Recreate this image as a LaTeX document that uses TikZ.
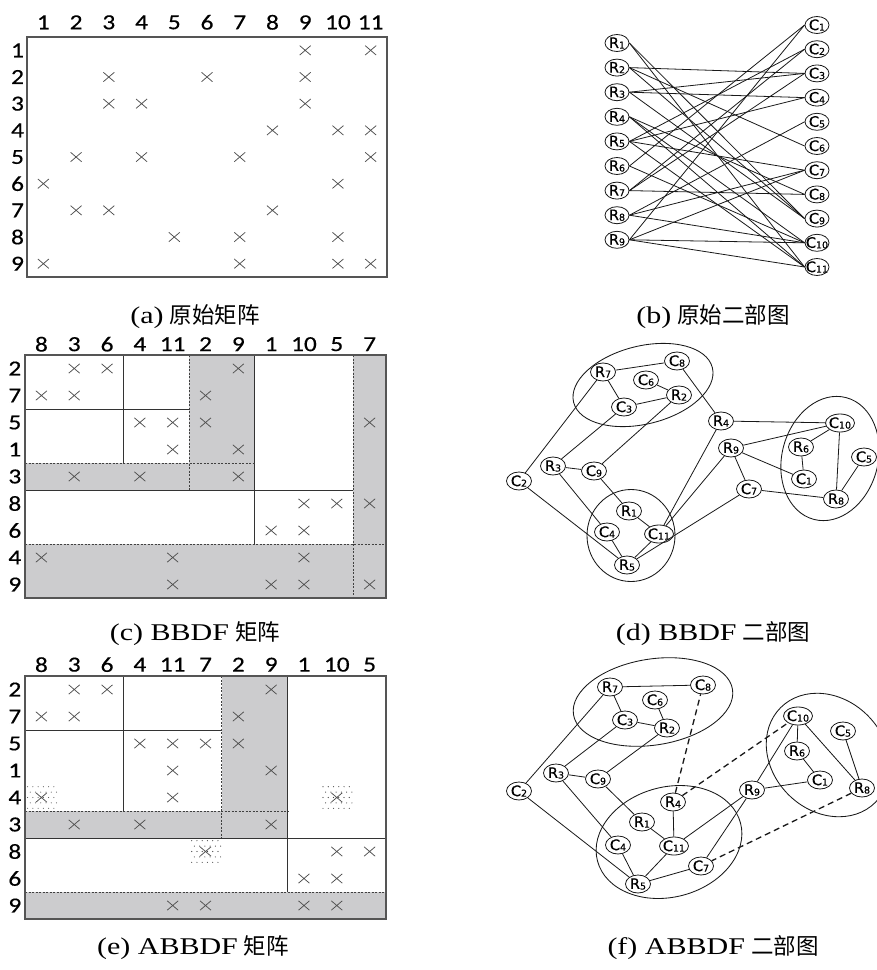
\documentclass[tikz,border=0pt]{standalone}
\usepackage{fontspec}
\usepackage{graphicx}
\setmainfont{Liberation Serif}
\newfontfamily\cjkf{Noto Sans CJK SC}
\newfontfamily\numf[FakeBold=0.4]{Carlito}
\newfontfamily\nodef[FakeBold=0.5]{DejaVu Sans}
\usetikzlibrary{shapes.geometric}

\definecolor{cellgray}{RGB}{204,204,206}
\definecolor{linegray}{RGB}{85,85,85}
\definecolor{xgray}{RGB}{80,80,80}

\newcommand{\mlab}[1]{\scalebox{1.18}[1]{\fontsize{21.5}{22}\numf #1}}
\newcommand{\gsub}[1]{\raisebox{-0.6pt}{\fontsize{9.5}{10}\selectfont #1}}
\newcommand{\glab}[2]{\makebox[0pt]{\fontsize{14.5}{15}\nodef #1\gsub{#2}}}
\newcommand{\capt}[2]{\scalebox{1.25}[1]{\fontsize{24}{25}\selectfont #1}\hspace{6pt}{\fontsize{22.5}{25}\cjkf #2}}

\tikzset{
  xmk/.style={draw=xgray, line width=0.75pt},
  frame/.style={draw=linegray, line width=1.4pt},
  inner/.style={draw=black!80, line width=0.9pt},
  dsh/.style={draw=black!75, line width=0.9pt, dash pattern=on 2pt off 1.5pt},
  numlab/.style={inner sep=0pt, anchor=center},
  gnode/.style={ellipse, draw=black!90, fill=white, line width=0.8pt, inner sep=0pt, minimum width=25pt, minimum height=18pt},
  gwide/.style={gnode, minimum width=29pt},
  edge/.style={draw=black!90, line width=0.8pt},
  dedge/.style={draw=black!90, line width=1.3pt, dash pattern=on 6pt off 4pt},
  group/.style={ellipse, draw=black!90, line width=0.85pt, inner sep=0pt},
  capnode/.style={inner sep=0pt}
}

\begin{document}
\begin{tikzpicture}[x=1pt, y=-1pt]
\useasboundingbox (0,0) rectangle (877,970);
\fill[white] (0,0) rectangle (877,970);

% ---------------- (a) original matrix ----------------
\begin{scope}[shift={(27,37)}, x=32.73pt, y=-26.67pt]
  \foreach \i in {1,...,11} \node[numlab] (ac\i) at (\i-0.5,-0.55) {\mlab{\i}};
  \foreach \j in {1,...,9} \node[numlab] (ar\j) at (-0.29,\j-0.5) {\mlab{\j}};
  \foreach \c/\r in {9/1,11/1, 3/2,6/2,9/2, 3/3,4/3,9/3, 8/4,10/4,11/4,
                     2/5,4/5,7/5,11/5, 1/6,10/6, 2/7,3/7,8/7, 5/8,7/8,10/8,
                     1/9,7/9,10/9,11/9}
    \draw[xmk] (\c-0.5,\r-0.5) +(-5.5pt,-4.7pt) -- +(5.5pt,4.7pt) +(-5.5pt,4.7pt) -- +(5.5pt,-4.7pt);
  \draw[frame] (0,0) rectangle (11,9);
\end{scope}

% ---------------- (c) BBDF matrix ----------------
\begin{scope}[shift={(25,355)}, x=32.82pt, y=-27pt]
  \fill[cellgray] (5,0) rectangle (7,5);
  \fill[cellgray] (0,4) rectangle (7,5);
  \fill[cellgray] (10,0) rectangle (11,9);
  \fill[cellgray] (0,7) rectangle (11,9);
  \draw[inner] (3,0) -- (3,4) (0,2) -- (5,2) (0,5) -- (10,5) (7,0) -- (7,7);
  \draw[dsh] (5,0) -- (5,5) (0,4) -- (7,4) (10,0) -- (10,9) (0,7) -- (11,7);
  \foreach \l [count=\i] in {8,3,6,4,11,2,9,1,10,5,7} \node[numlab] (cc\i) at (\i-0.5,-0.4) {\mlab{\l}};
  \foreach \l [count=\j] in {2,7,5,1,3,8,6,4,9} \node[numlab] (cr\j) at (-0.31,\j-0.5) {\mlab{\l}};
  \foreach \c/\r in {2/1,3/1,7/1, 1/2,2/2,6/2, 4/3,5/3,6/3,11/3, 5/4,7/4,
                     2/5,4/5,7/5, 9/6,10/6,11/6, 8/7,9/7, 1/8,5/8,9/8,
                     5/9,8/9,9/9,11/9}
    \draw[xmk] (\c-0.5,\r-0.5) +(-5.5pt,-4.7pt) -- +(5.5pt,4.7pt) +(-5.5pt,4.7pt) -- +(5.5pt,-4.7pt);
  \draw[frame] (0,0) rectangle (11,9);
\end{scope}

% ---------------- (e) ABBDF matrix ----------------
\begin{scope}[shift={(25,676)}, x=32.82pt, y=-27pt]
  \fill[cellgray] (6,0) rectangle (8,6);
  \fill[cellgray] (0,5) rectangle (8,6);
  \fill[cellgray] (0,8) rectangle (11,9);
  \foreach \cc/\rr in {1/5,10/5,6/7}
    \foreach \a in {0,...,5}
      \foreach \b in {0,...,4}
        \fill[black!75] ({\cc-1+0.08+0.16*\a+0.08*mod(\b,2)},{\rr-1+0.1+0.2*\b}) circle[radius=0.55pt];
  \draw[inner] (3,0) -- (3,5) (0,2) -- (6,2) (0,6) -- (11,6) (8,0) -- (8,8);
  \draw[dsh] (6,0) -- (6,6) (0,5) -- (8,5) (0,8) -- (11,8);
  \foreach \l [count=\i] in {8,3,6,4,11,7,2,9,1,10,5} \node[numlab] (ec\i) at (\i-0.5,-0.42) {\mlab{\l}};
  \foreach \l [count=\j] in {2,7,5,1,4,3,8,6,9} \node[numlab] (er\j) at (-0.31,\j-0.5) {\mlab{\l}};
  \foreach \c/\r in {2/1,3/1,8/1, 1/2,2/2,7/2, 4/3,5/3,6/3,7/3, 5/4,8/4,
                     1/5,5/5,10/5, 2/6,4/6,8/6, 6/7,10/7,11/7, 9/8,10/8,
                     5/9,6/9,9/9,10/9}
    \draw[xmk] (\c-0.5,\r-0.5) +(-5.5pt,-4.7pt) -- +(5.5pt,4.7pt) +(-5.5pt,4.7pt) -- +(5.5pt,-4.7pt);
  \draw[frame] (0,0) rectangle (11,9);
\end{scope}

% ---------------- (b) original bipartite graph ----------------
\foreach \i in {1,...,9} \node[gnode, minimum width=24pt, minimum height=17pt] (rb\i) at (617,{43+24.6*(\i-1)}) {\glab{R}{\i}};
\foreach \j in {1,...,11} \node[gnode, minimum width=24pt, minimum height=17pt] (cb\j) at (817,{25+24.2*(\j-1)}) {\glab{C}{\j}};
\foreach \a/\b in {1/9,1/11, 2/3,2/6,2/9, 3/3,3/4,3/9, 4/8,4/10,4/11,
                   5/2,5/4,5/7,5/11, 6/1,6/10, 7/2,7/3,7/8, 8/5,8/7,8/10,
                   9/1,9/7,9/10,9/11}
  \draw[edge] (rb\a.east) -- (cb\b.west);

% ---------------- (d) BBDF bipartite graph ----------------
\node[group, minimum width=143pt, minimum height=78pt, rotate=14] (gd1) at (643,385) {};
\node[group, minimum width=88pt, minimum height=92pt] (gd2) at (631,535.5) {};
\node[group, minimum width=126pt, minimum height=96pt, rotate=75] (gd3) at (830,458.5) {};
\foreach \n/\x/\y in {7/603/372, 2/679/395, 4/721/421, 6/801/447, 9/731/448,
                      3/553/466, 8/836/499, 1/629/511, 5/627/565}
  \node[gnode] (rd\n) at (\x,\y) {\glab{R}{\n}};
\foreach \n/\x/\y in {8/677/361, 6/646/380, 3/624/407, 5/864/457,
                      9/594/471, 1/804/479, 2/519/481, 7/749/489, 4/607/532}
  \node[gnode] (cd\n) at (\x,\y) {\glab{C}{\n}};
\node[gwide] (cd10) at (840,423) {\glab{C}{10}};
\node[gwide] (cd11) at (659,534) {\glab{C}{11}};
\foreach \a/\b in {1/9,1/11, 2/3,2/6,2/9, 3/3,3/4,3/9, 4/8,4/10,4/11,
                   5/2,5/4,5/7,5/11, 6/1,6/10, 7/2,7/3,7/8, 8/5,8/7,8/10,
                   9/1,9/7,9/10,9/11}
  \draw[edge] (rd\a) -- (cd\b);

% ---------------- (f) ABBDF bipartite graph ----------------
\node[group, minimum width=161pt, minimum height=86pt, rotate=9] (gf1) at (653,702) {};
\node[group, minimum width=148pt, minimum height=110pt, rotate=15] (gf2) at (669,842) {};
\node[group, minimum width=134pt, minimum height=112pt, rotate=-45] (gf3) at (828,755) {};
\foreach \n/\x/\y in {7/610/687, 2/667/728, 6/797/751, 3/556/773, 8/862/788,
                      9/752/790, 4/673/802, 1/642/822, 5/638/884}
  \node[gnode] (rf\n) at (\x,\y) {\glab{R}{\n}};
\foreach \n/\x/\y in {8/703/685, 6/655/700, 3/625/720, 5/843/731,
                      9/598/779, 1/820/780, 2/519/791, 4/618/845, 7/701/866}
  \node[gnode] (cf\n) at (\x,\y) {\glab{C}{\n}};
\node[gwide] (cf10) at (798,716) {\glab{C}{10}};
\node[gwide] (cf11) at (674,846) {\glab{C}{11}};
\foreach \a/\b in {1/9,1/11, 2/3,2/6,2/9, 3/3,3/4,3/9, 4/11,
                   5/2,5/4,5/7,5/11, 6/1,6/10, 7/2,7/3,7/8, 8/5,8/10,
                   9/1,9/7,9/10,9/11}
  \draw[edge] (rf\a) -- (cf\b);
\draw[dedge] (rf4) -- (cf8);
\draw[dedge] (rf4) -- (cf10);
\draw[dedge] (rf8) -- (cf7);

% ---------------- captions ----------------
\node[capnode] (capa) at (195,317) {\capt{(a)}{原始矩阵}};
\node[capnode] (capb) at (713,317) {\capt{(b)}{原始二部图}};
\node[capnode] (capc) at (195,634) {\capt{(c) BBDF}{矩阵}};
\node[capnode] (capd) at (713,634) {\capt{(d) BBDF}{二部图}};
\node[capnode] (cape) at (193,948) {\capt{(e) ABBDF}{矩阵}};
\node[capnode] (capf) at (713,948) {\capt{(f) ABBDF}{二部图}};
\end{tikzpicture}
\end{document}
